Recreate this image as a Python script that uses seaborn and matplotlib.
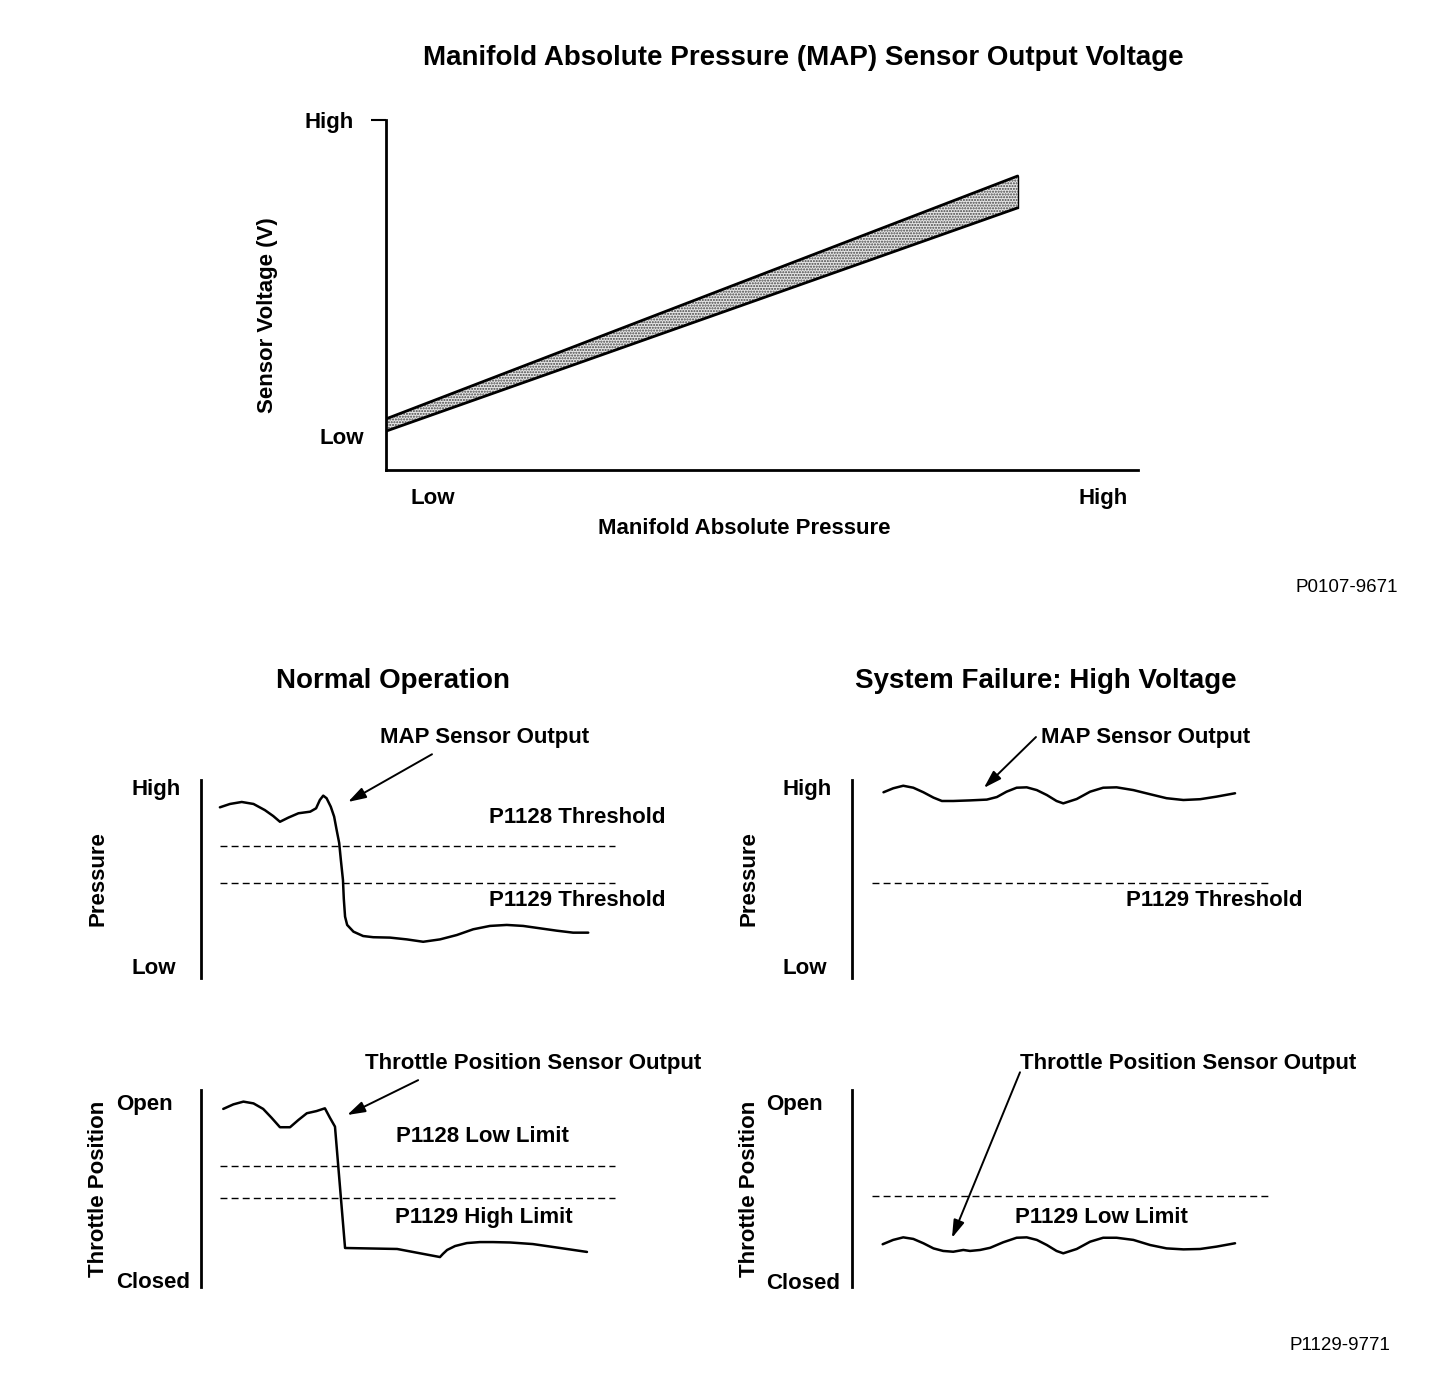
import numpy as np
import pandas as pd
import matplotlib
matplotlib.use("Agg")
import matplotlib.pyplot as plt
import seaborn as sns

# ---- MAP sensor transfer band (0-100 scales, Low..High) ----
map_pressure = [0, 84]
map_volt_hi = [14.6, 84.0]
map_volt_lo = [11.1, 74.9]

# ---- Normal operation traces (time 0-100, level 0-100) ----
norm_map_t = [4.5, 6.9, 9.7, 12.5, 15.2, 17.2, 18.8, 20.8, 23.2, 26.0, 27.4, 28.3, 29.1,
              29.9, 30.9, 31.7, 32.3, 32.9, 33.3, 33.8, 34.0, 34.3, 34.8, 36.3, 38.6,
              41.0, 45.0, 49.0, 52.9, 56.9, 60.9, 64.8, 68.8, 72.8, 76.7, 80.7, 84.7,
              88.6, 92.2]
norm_map_lvl = [86.2, 87.9, 88.9, 87.9, 84.8, 81.8, 78.9, 81.0, 83.2, 84.0, 85.7, 89.9, 92.1,
                90.8, 86.5, 81.5, 74.7, 68.2, 59.6, 49.5, 40.0, 31.0, 26.8, 23.4, 21.2,
                20.6, 20.4, 19.5, 18.3, 19.5, 21.7, 24.6, 26.3, 26.8, 26.3, 25.1, 23.9,
                22.9, 22.9]
norm_tps_t = [5.3, 7.7, 10.1, 12.5, 14.8, 16.8, 18.8, 21.2, 23.2, 25.2, 27.5, 29.5, 30.7,
              31.9, 34.3, 46.7, 56.9, 57.6, 58.6, 60.5, 63.3, 66.4, 69.5, 73.6, 79.0,
              85.5, 91.9]
norm_tps_lvl = [90.4, 92.7, 94.1, 93.2, 90.4, 85.9, 81.1, 81.1, 84.8, 88.2, 89.3, 90.7, 85.9,
                81.4, 19.8, 19.3, 15.2, 16.8, 18.8, 20.8, 22.3, 22.8, 22.8, 22.6, 21.8,
                19.8, 17.8]

# ---- High voltage failure traces ----
fail_map_t = [7.5, 9.8, 12.2, 14.6, 17.0, 19.4, 21.4, 24.1, 28.1, 32.1, 34.5, 36.8, 39.2,
              41.6, 44.0, 46.4, 48.7, 50.3, 53.5, 56.7, 59.8, 63.0, 67.0, 71.0, 74.9,
              78.9, 82.9, 86.8, 91.2]
fail_map_lvl = [93.8, 95.8, 97.1, 96.1, 93.8, 91.1, 89.4, 89.4, 89.7, 90.1, 91.4, 94.1, 96.1,
                96.3, 94.9, 92.4, 89.4, 88.2, 90.4, 94.1, 96.1, 96.3, 94.9, 92.8, 90.8,
                89.9, 90.3, 91.6, 93.3]
fail_tps_t = [7.3, 9.8, 12.2, 14.6, 17.0, 19.4, 21.7, 24.1, 26.5, 28.1, 30.5, 32.9, 36.0,
              39.2, 41.6, 44.0, 46.4, 48.7, 50.3, 53.5, 56.7, 59.8, 63.0, 67.0, 71.0,
              74.9, 78.9, 82.9, 86.8, 91.2]
fail_tps_lvl = [21.7, 23.9, 25.2, 24.4, 22.2, 19.6, 18.3, 17.9, 18.8, 18.3, 18.8, 19.9, 22.7,
                25.0, 25.2, 23.9, 21.3, 18.3, 17.1, 19.3, 23.0, 25.0, 25.0, 23.9, 21.3,
                19.6, 19.1, 19.3, 20.5, 22.2]

# thresholds / limits
norm_map_limits = [66.7, 48.0]
norm_map_limit_names = ["P1128 Threshold", "P1129 Threshold"]
norm_tps_limits = [61.4, 45.2]
norm_tps_limit_names = ["P1128 Low Limit", "P1129 High Limit"]
fail_map_limits = [48.0]
fail_map_limit_names = ["P1129 Threshold"]
fail_tps_limits = [46.2]
fail_tps_limit_names = ["P1129 Low Limit"]

sns.set_theme(style="white")
plt.rcParams["font.family"] = ["Liberation Sans", "DejaVu Sans"]
plt.rcParams["font.weight"] = "bold"
plt.rcParams["text.color"] = "black"
plt.rcParams["axes.labelcolor"] = "black"
plt.rcParams["xtick.color"] = "black"
plt.rcParams["ytick.color"] = "black"

W, H = 1440, 1388
LBL = 16
fig = plt.figure(figsize=(W / 100, H / 100), dpi=100)
fig.patch.set_facecolor("white")


def px_axes(left, top, right, bottom):
    return fig.add_axes([left / W, 1 - bottom / H, (right - left) / W, (bottom - top) / H])


def arrow(ax, tail, head):
    ax.annotate("", xy=head, xytext=tail, annotation_clip=False,
                arrowprops=dict(arrowstyle="-|>,head_length=0.9,head_width=0.28",
                                lw=1.4, color="black", shrinkA=0, shrinkB=0))


# ================= top chart =================
ax = px_axes(386, 120, 1138, 470)
ax.fill_between(map_pressure, map_volt_lo, map_volt_hi, facecolor="#e6e6e6",
                hatch="......", edgecolor="#444444", linewidth=0)
band = pd.DataFrame({"p": map_pressure, "hi": map_volt_hi, "lo": map_volt_lo})
sns.lineplot(data=band, x="p", y="hi", color="black", lw=2, ax=ax)
sns.lineplot(data=band, x="p", y="lo", color="black", lw=2, ax=ax)
ax.plot([map_pressure[-1]] * 2, [map_volt_lo[-1], map_volt_hi[-1]], color="black", lw=1)
ax.set_xlim(0, 100)
ax.set_ylim(0, 100)
for s in ["top", "right"]:
    ax.spines[s].set_visible(False)
for s in ["left", "bottom"]:
    ax.spines[s].set_color("black")
    ax.spines[s].set_linewidth(2)
ax.set_yticks([100, 9.7], ["High", "Low"])
ax.set_xticks([6.25, 95.3], ["Low", "High"])
ax.tick_params(axis="y", length=11, width=1.5, color="black", pad=12, labelsize=LBL, left=True)
ax.tick_params(axis="x", length=0, pad=13, labelsize=LBL)
ax.yaxis.get_major_ticks()[1].tick1line.set_visible(False)
ax.get_yticklabels()[1].set_horizontalalignment("center")
ax.get_yticklabels()[1].set_x(-0.016)
ax.set_xlabel("")
ax.set_ylabel("")
ax.text(0.477, -0.168, "Manifold Absolute Pressure", transform=ax.transAxes,
        ha="center", va="center", fontsize=LBL)
ax.text(-0.158, 0.443, "Sensor Voltage (V)", transform=ax.transAxes, rotation=90,
        ha="center", va="center", fontsize=LBL)

fig.text(803 / W, 1 - 58 / H, "Manifold Absolute Pressure (MAP) Sensor Output Voltage",
         ha="center", va="center", fontsize=20)
fig.text(1398 / W, 1 - 588 / H, "P0107-9671", ha="right", va="center",
         fontsize=13.5, fontweight="normal")


# ================= bottom panels =================
def trace_panel(rect, t, lvl, ylabel, tick_lvls, tick_names, tick_pad,
                limits, limit_names, limit_label_pos, limit_span):
    ax = px_axes(*rect)
    df = pd.DataFrame({"t": t, "lvl": lvl})
    sns.lineplot(data=df, x="t", y="lvl", sort=False, estimator=None, color="black",
                 lw=1.8, ax=ax)
    for line in ax.get_lines():
        line.set_solid_joinstyle("round")
        line.set_solid_capstyle("round")
    for y, name, (lx, ly) in zip(limits, limit_names, limit_label_pos):
        ax.hlines(y, limit_span[0], limit_span[1], colors="black", lw=1,
                  linestyles=(0, (5, 3)))
        ax.text(lx, ly, name, ha="center", va="center", fontsize=LBL)
    ax.set_xlim(0, 100)
    ax.set_ylim(0, 100)
    for s in ["top", "right", "bottom"]:
        ax.spines[s].set_visible(False)
    ax.spines["left"].set_color("black")
    ax.spines["left"].set_linewidth(2)
    ax.set_xticks([])
    ax.set_yticks(tick_lvls, tick_names)
    for lab in ax.get_yticklabels():
        lab.set_horizontalalignment("left")
    ax.tick_params(axis="y", length=0, pad=tick_pad, labelsize=LBL)
    ax.set_xlabel("")
    ax.set_ylabel("")
    ax.text(-0.245, 0.5, ylabel, transform=ax.transAxes, rotation=90,
            ha="center", va="center", fontsize=LBL)
    return ax


# normal operation
ax1 = trace_panel((201, 780, 621, 978), norm_map_t, norm_map_lvl, "Pressure",
                  [96.5, 6.1], ["High", "Low"], 50,
                  norm_map_limits, norm_map_limit_names, [(89.5, 81.3), (89.5, 38.9)],
                  (4.5, 98.6))
ax1.text(67.6, 121.7, "MAP Sensor Output", ha="center", va="center", fontsize=LBL)
arrow(ax1, (55, 113), (35, 88.9))

ax2 = trace_panel((201, 1090, 621, 1287), norm_tps_t, norm_tps_lvl, "Throttle Position",
                  [93.9, 3.6], ["Open", "Closed"], 61,
                  norm_tps_limits, norm_tps_limit_names, [(66.9, 76.6), (67.4, 35.5)],
                  (4.5, 98.6))
ax2.text(79, 113.2, "Throttle Position Sensor Output", ha="center", va="center", fontsize=LBL)
arrow(ax2, (51.7, 105), (34.8, 87.3))

# system failure
ax3 = trace_panel((852, 780, 1272, 978), fail_map_t, fail_map_lvl, "Pressure",
                  [96.5, 6.1], ["High", "Low"], 50,
                  fail_map_limits, fail_map_limit_names, [(86.2, 38.9)],
                  (4.8, 99))
ax3.text(70, 121.7, "MAP Sensor Output", ha="center", va="center", fontsize=LBL)
arrow(ax3, (43.8, 121.7), (31.4, 96))

ax4 = trace_panel((852, 1090, 1272, 1287), fail_tps_t, fail_tps_lvl, "Throttle Position",
                  [93.9, 3.0], ["Open", "Closed"], 62,
                  fail_tps_limits, fail_tps_limit_names, [(59.5, 35.5)],
                  (4.8, 99))
ax4.text(80, 113.7, "Throttle Position Sensor Output", ha="center", va="center", fontsize=LBL)
arrow(ax4, (40, 109), (23.8, 24.9))

fig.text(393 / W, 1 - 681 / H, "Normal Operation", ha="center", va="center", fontsize=20)
fig.text(1046 / W, 1 - 681 / H, "System Failure: High Voltage", ha="center", va="center",
         fontsize=20)
fig.text(1390 / W, 1 - 1346 / H, "P1129-9771", ha="right", va="center",
         fontsize=13.5, fontweight="normal")

fig.savefig("out.png", dpi=100, facecolor="white")
